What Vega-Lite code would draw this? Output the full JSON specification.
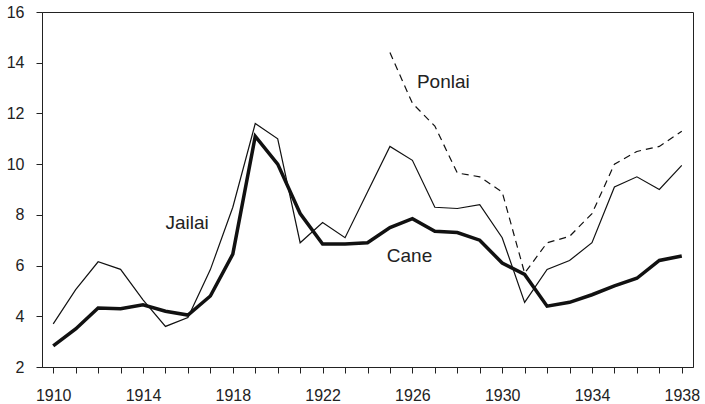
{
  "$schema": "https://vega.github.io/schema/vega-lite/v6.json",
  "width": 651,
  "height": 355,
  "autosize": "none",
  "padding": {"left": 42, "top": 12, "right": 12, "bottom": 37},
  "background": "white",
  "config": {
    "font": "Liberation Sans",
    "view": {"stroke": "#222", "strokeWidth": 1},
    "axis": {"grid": false, "domainColor": "#222", "tickColor": "#222", "labelColor": "#222", "labelFontSize": 16, "labelFont": "Liberation Sans", "tickSize": 6, "title": null}
  },
  "datasets": {
    "series": [
      {"year": 1910, "series": "Cane", "value": 2.83},
      {"year": 1911, "series": "Cane", "value": 3.5},
      {"year": 1912, "series": "Cane", "value": 4.33},
      {"year": 1913, "series": "Cane", "value": 4.3},
      {"year": 1914, "series": "Cane", "value": 4.45},
      {"year": 1915, "series": "Cane", "value": 4.2},
      {"year": 1916, "series": "Cane", "value": 4.05},
      {"year": 1917, "series": "Cane", "value": 4.8},
      {"year": 1918, "series": "Cane", "value": 6.45},
      {"year": 1919, "series": "Cane", "value": 11.1},
      {"year": 1920, "series": "Cane", "value": 10.0},
      {"year": 1921, "series": "Cane", "value": 8.05},
      {"year": 1922, "series": "Cane", "value": 6.85},
      {"year": 1923, "series": "Cane", "value": 6.85},
      {"year": 1924, "series": "Cane", "value": 6.9},
      {"year": 1925, "series": "Cane", "value": 7.5},
      {"year": 1926, "series": "Cane", "value": 7.85},
      {"year": 1927, "series": "Cane", "value": 7.35},
      {"year": 1928, "series": "Cane", "value": 7.3},
      {"year": 1929, "series": "Cane", "value": 7.0},
      {"year": 1930, "series": "Cane", "value": 6.1},
      {"year": 1931, "series": "Cane", "value": 5.65},
      {"year": 1932, "series": "Cane", "value": 4.4},
      {"year": 1933, "series": "Cane", "value": 4.55},
      {"year": 1934, "series": "Cane", "value": 4.85},
      {"year": 1935, "series": "Cane", "value": 5.2},
      {"year": 1936, "series": "Cane", "value": 5.5},
      {"year": 1937, "series": "Cane", "value": 6.2},
      {"year": 1938, "series": "Cane", "value": 6.38},
      {"year": 1910, "series": "Jailai", "value": 3.7},
      {"year": 1911, "series": "Jailai", "value": 5.05},
      {"year": 1912, "series": "Jailai", "value": 6.15},
      {"year": 1913, "series": "Jailai", "value": 5.85},
      {"year": 1914, "series": "Jailai", "value": 4.65},
      {"year": 1915, "series": "Jailai", "value": 3.6},
      {"year": 1916, "series": "Jailai", "value": 3.95},
      {"year": 1917, "series": "Jailai", "value": 5.84},
      {"year": 1918, "series": "Jailai", "value": 8.3},
      {"year": 1919, "series": "Jailai", "value": 11.6},
      {"year": 1920, "series": "Jailai", "value": 11.0},
      {"year": 1921, "series": "Jailai", "value": 6.9},
      {"year": 1922, "series": "Jailai", "value": 7.7},
      {"year": 1923, "series": "Jailai", "value": 7.1},
      {"year": 1924, "series": "Jailai", "value": 8.9},
      {"year": 1925, "series": "Jailai", "value": 10.7},
      {"year": 1926, "series": "Jailai", "value": 10.15},
      {"year": 1927, "series": "Jailai", "value": 8.3},
      {"year": 1928, "series": "Jailai", "value": 8.25},
      {"year": 1929, "series": "Jailai", "value": 8.4},
      {"year": 1930, "series": "Jailai", "value": 7.1},
      {"year": 1931, "series": "Jailai", "value": 4.55},
      {"year": 1932, "series": "Jailai", "value": 5.85},
      {"year": 1933, "series": "Jailai", "value": 6.2},
      {"year": 1934, "series": "Jailai", "value": 6.9},
      {"year": 1935, "series": "Jailai", "value": 9.1},
      {"year": 1936, "series": "Jailai", "value": 9.5},
      {"year": 1937, "series": "Jailai", "value": 9.0},
      {"year": 1938, "series": "Jailai", "value": 9.95},
      {"year": 1925, "series": "Ponlai", "value": 14.4},
      {"year": 1926, "series": "Ponlai", "value": 12.4},
      {"year": 1927, "series": "Ponlai", "value": 11.5},
      {"year": 1928, "series": "Ponlai", "value": 9.65},
      {"year": 1929, "series": "Ponlai", "value": 9.5},
      {"year": 1930, "series": "Ponlai", "value": 8.9},
      {"year": 1931, "series": "Ponlai", "value": 5.7},
      {"year": 1932, "series": "Ponlai", "value": 6.9},
      {"year": 1933, "series": "Ponlai", "value": 7.15},
      {"year": 1934, "series": "Ponlai", "value": 8.05},
      {"year": 1935, "series": "Ponlai", "value": 10.0},
      {"year": 1936, "series": "Ponlai", "value": 10.5},
      {"year": 1937, "series": "Ponlai", "value": 10.7},
      {"year": 1938, "series": "Ponlai", "value": 11.3}
    ],
    "labels": [
      {"year": 1926.2, "value": 13.25, "text": "Ponlai"},
      {"year": 1915.0, "value": 7.68, "text": "Jailai"},
      {"year": 1924.86, "value": 6.39, "text": "Cane"}
    ]
  },
  "encoding": {
    "x": {
      "field": "year", "type": "quantitative",
      "scale": {"domain": [1909.5, 1938.5], "nice": false, "zero": false},
      "axis": {
        "values": [1910,1911,1912,1913,1914,1915,1916,1917,1918,1919,1920,1921,1922,1923,1924,1925,1926,1927,1928,1929,1930,1931,1932,1933,1934,1935,1936,1937,1938],
        "labelExpr": "(datum.value - 1910) % 4 == 0 ? datum.value : ''",
        "labelOverlap": false, "labelPadding": 14, "format": "d"
      }
    },
    "y": {
      "field": "value", "type": "quantitative",
      "scale": {"domain": [2, 16], "nice": false, "zero": false},
      "axis": {"values": [2,4,6,8,10,12,14,16], "labelPadding": 12}
    }
  },
  "layer": [
    {
      "data": {"name": "series"},
      "transform": [{"filter": "datum.series == 'Jailai'"}],
      "mark": {"type": "line", "color": "#111", "strokeWidth": 1.2}
    },
    {
      "data": {"name": "series"},
      "transform": [{"filter": "datum.series == 'Ponlai'"}],
      "mark": {"type": "line", "color": "#111", "strokeWidth": 1.2, "strokeDash": [7, 5]}
    },
    {
      "data": {"name": "series"},
      "transform": [{"filter": "datum.series == 'Cane'"}],
      "mark": {"type": "line", "color": "#111", "strokeWidth": 3.5}
    },
    {
      "data": {"name": "labels"},
      "mark": {"type": "text", "align": "left", "baseline": "middle", "fontSize": 19, "color": "#222", "font": "Liberation Sans"},
      "encoding": {"text": {"field": "text"}}
    }
  ]
}
